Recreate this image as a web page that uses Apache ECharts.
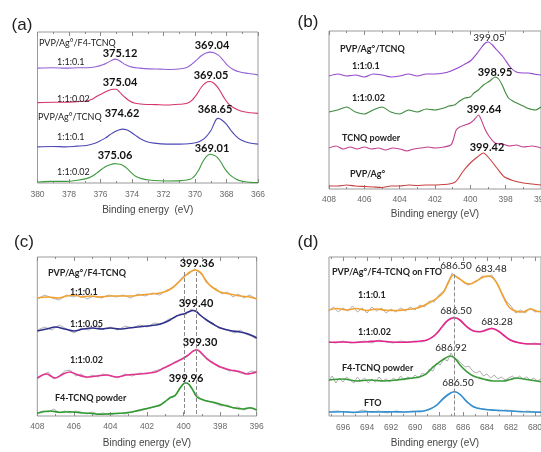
<!DOCTYPE html>
<html><head><meta charset="utf-8">
<script src="https://cdn.jsdelivr.net/npm/echarts@6/dist/echarts.min.js"></script>
<style>html,body{margin:0;padding:0;background:#fff}#c{width:541px;height:452px}</style>
</head><body><div id="c"></div>
<script>
// ---------- tick labels ----------
const aTicks=[380,378,376,374,372,370,368,366];
const aMinor=[379,377,375,373,371,369,367];
const bTicks=[408,406,404,402,400,398,396];
const bMinor=[407,405,403,401,399,397];
const cTicks=[408,406,404,402,400,398,396];
const cMinor=[407,405,403,401,399,397];
const dTicks=[696,694,692,690,688,686,684,682,680];
const dMinor=[697,695,693,691,689,687,685,683,681];

// ---------- (a) Ag 3d, offset intensities ----------
const a_F4_01=[[380,343],[379,344],[378.2,343],[377.4,344],[376.8,344],[376.3,347],[375.85,353],[375.5,361],[375.3,366],[375.1,370],[374.9,368],[374.7,362],[374.4,353],[374.0,346],[373.5,343],[372.9,341],[372.2,340],[371.5,339],[370.9,341],[370.5,346],[370.2,355],[369.9,367],[369.6,380],[369.3,388],[369.04,391],[368.8,389],[368.5,381],[368.2,366],[367.9,350],[367.6,340],[367.2,332],[366.6,327],[366,323]];
const a_F4_002=[[380,240],[379,241],[378.2,241],[377.5,243],[376.9,245],[376.5,251],[376.2,260],[375.85,268],[375.5,276],[375.2,280],[375.0,280],[374.8,272],[374.5,258],[374.15,245],[373.8,238],[373.3,235],[372.5,234],[371.8,233],[371.0,235],[370.5,238],[370.2,247],[369.9,264],[369.6,286],[369.3,300],[369.05,303],[368.8,298],[368.5,282],[368.2,258],[367.9,238],[367.6,226],[367.1,215],[366.5,210],[366,208]];
const a_T_01=[[380,108],[379,109],[378.2,108],[377.5,110],[376.9,112],[376.4,118],[376.1,124],[375.7,134],[375.4,144],[375.1,153],[374.8,159],[374.6,161],[374.35,159],[374.1,153],[373.8,143],[373.5,133],[373.1,124],[372.6,119],[371.8,116],[371.0,116],[370.4,117],[369.9,121],[369.6,127],[369.3,138],[369.0,156],[368.8,176],[368.65,190],[368.5,193],[368.3,188],[368.0,175],[367.7,156],[367.4,140],[367.1,129],[366.6,120],[366,116]];
const a_T_002=[[380,3],[379.2,5],[378.2,5],[377.5,8],[376.9,13],[376.5,21],[376.2,31],[375.9,42],[375.6,51],[375.3,56],[375.1,58],[374.9,57],[374.6,53],[374.3,43],[374.05,31],[373.8,21],[373.4,13],[372.8,8],[371.8,6],[370.9,7],[370.3,11],[370.0,22],[369.75,40],[369.5,64],[369.25,80],[369.05,86],[368.8,83],[368.6,77],[368.35,62],[368.1,42],[367.8,25],[367.4,12],[367.0,5],[366.5,2],[366,1]];

// ---------- (b) N 1s, TCNQ ----------
const b_T_01=[[408,113],[407.5,115],[407,113],[406.5,114],[406,112],[405.5,115],[405,114],[404.5,112],[404,113],[403.5,115],[403,113],[402.5,115],[402,115],[401.5,116],[401.1,118],[400.6,122],[400.3,125],[400,128],[399.6,136],[399.35,142],[399.15,146],[398.97,147],[398.75,144],[398.5,139],[398.1,131],[397.75,122],[397.4,117],[397,116],[396.7,116],[396.4,115],[396,114]];
const b_T_002=[[408,77],[407.5,79],[407,82],[406.5,77],[406,75],[405.5,79],[405,82],[404.5,77],[404,75],[403.5,79],[403,77],[402.5,80],[402,79],[401.5,81],[401.2,83],[400.9,84],[400.6,88],[400.3,91],[400,92],[399.8,96],[399.55,99],[399.26,104],[398.9,108],[398.6,112],[398.4,110],[398.2,104],[398,96],[397.84,91],[397.6,88],[397.37,86],[397,83],[396.8,81],[396.33,79],[396,82]];
const b_TCNQ=[[408,41],[407.6,43],[407.2,40],[406.8,42],[406.4,40],[406,42],[405.6,40],[405.2,41],[404.8,39],[404.4,41],[404,40],[403.6,38],[403.2,40],[402.8,41],[402.4,42],[402,41],[401.5,42],[401.1,44],[400.95,50],[400.8,59],[400.6,62],[400.3,64],[400,66],[399.75,70],[399.54,74],[399.4,70],[399.2,61],[398.95,53],[398.6,46],[398.2,45],[397.8,43],[397.4,44],[397,42],[396.5,43],[396,41]];
const b_PVP=[[408,3],[407.5,3],[407,4],[406.5,3],[406,2.5],[405.5,2],[405,1.5],[404.5,3],[404,3],[403.5,4],[403,3.5],[402.5,4],[402,4],[401.5,4.5],[401.2,5],[400.9,6.5],[400.7,10],[400.4,18],[400,26],[399.6,32],[399.26,36],[398.9,30],[398.5,21],[398.1,12.5],[397.6,8.5],[397,6],[396.5,5],[396,4]];

// ---------- (c) N 1s, F4-TCNQ: raw + fit ----------
const c_01_raw=[[408,117],[407.6,121],[407.2,118],[406.8,116],[406.4,121],[406,119],[405.6,122],[405.3,117],[404.9,120],[404.5,118],[404.1,121],[403.7,119],[403.3,121],[402.9,118],[402.5,122],[402.1,120],[401.7,123],[401.3,121],[400.9,126],[400.6,128],[400.3,134],[400,140],[399.7,142],[399.4,147],[399.1,143],[398.8,137],[398.5,129],[398.2,127],[397.9,122],[397.6,124],[397.3,119],[397,122],[396.7,118],[396.4,121],[396,117]];
const c_01_fit=[[408,118],[407.4,119],[406.85,118],[406.4,120],[405.9,121],[405.6,119],[405.1,120],[404.6,119],[404,120],[403.5,120],[402.9,120],[402.4,121],[401.8,122],[401.3,123],[400.9,125],[400.56,129],[400.2,135],[399.92,140],[399.65,144],[399.37,146],[399.19,145],[399.0,142],[398.74,134],[398.37,128],[398.0,124],[397.46,122],[396.9,120],[396.37,119],[396,117]];
const c_005_raw=[[408,86],[407.6,89],[407.2,86],[406.8,91],[406.4,87],[406,83],[405.6,88],[405.2,86],[404.8,90],[404.4,87],[404,89],[403.6,86],[403.2,90],[402.8,88],[402.4,91],[402,89],[401.6,93],[401.2,92],[400.8,97],[400.5,98],[400.2,102],[399.9,101],[399.6,107],[399.3,104],[399,100],[398.7,95],[398.4,93],[398.1,88],[397.8,87],[397.5,85],[397.2,83],[396.9,86],[396.6,82],[396.3,80],[396,77]];
const c_005_fit=[[408,85],[407.5,87],[407,89],[406.5,87],[406,85],[405.5,87],[405,88],[404.5,87],[404,88],[403.5,87],[403,88],[402.5,89],[402,90],[401.5,91],[401.1,93],[400.74,96],[400.38,100],[400.01,102],[399.74,104],[399.5,105.5],[399.3,104.5],[399.1,101],[398.74,96],[398.37,91.7],[398.01,88.3],[397.46,85.5],[396.91,84],[396.55,82.5],[396.2,80],[396,78]];
const c_002_raw=[[408,37],[407.7,41],[407.4,44],[407.1,37],[406.8,40],[406.5,45],[406.2,46],[405.9,40],[405.6,42],[405.3,38],[405,41],[404.7,39],[404.4,42],[404,40],[403.6,38],[403.2,42],[402.8,40],[402.4,43],[402,42],[401.6,45],[401.2,47],[400.8,50],[400.5,54],[400.2,56],[399.9,59],[399.6,63],[399.3,67],[399,62],[398.7,56],[398.4,54],[398.1,49],[397.8,48],[397.5,45],[397.2,46],[396.9,43],[396.6,42],[396.3,45],[396,44]];
const c_002_fit=[[408,38],[407.5,42],[407.03,38],[406.58,42],[406.21,44],[405.76,41],[405.3,39],[404.75,40],[404.21,41],[403.66,39],[403.11,41],[402.57,41.7],[402.02,42.7],[401.47,44.3],[401.11,47.7],[400.74,51],[400.38,54.3],[400.01,57.7],[399.74,61],[399.47,65],[399.25,66],[399.01,62.7],[398.74,57.7],[398.37,52.7],[398.01,49.3],[397.46,46],[396.91,44.3],[396.55,42],[396,44]];
const c_pow_raw=[[408,3],[407.7,5],[407.4,4],[407.1,7],[406.8,3],[406.5,5],[406.2,3],[405.9,5],[405.6,4],[405.3,2],[405,4],[404.7,2],[404.4,3],[404,1],[403.6,3],[403.2,2],[402.8,4],[402.4,5],[402,7],[401.6,9],[401.3,10],[401,14],[400.7,19],[400.4,21],[400.1,30],[399.9,34],[399.7,31],[399.4,24],[399.1,18],[398.8,15],[398.5,14],[398.2,12],[397.9,10],[397.6,11],[397.3,8],[397,9],[396.7,6],[396.4,8],[396,6]];
const c_pow_fit=[[408,2.7],[407.3,5],[406.76,3.7],[406.21,4.3],[405.67,3.3],[405.12,2.7],[404.57,1.7],[404.02,2.3],[403.48,2.7],[402.93,3.7],[402.38,6],[401.84,8.3],[401.29,11],[401.02,14.3],[400.74,18.3],[400.47,20.3],[400.2,27.7],[399.96,32.7],[399.83,33],[399.56,28],[399.28,19.3],[398.92,16],[398.37,13.7],[397.82,11],[397.28,8.3],[396.73,7],[396.37,8.3],[396,6]];
const cDash=[399.96,399.32];
const cDashTop=144;

// ---------- (d) F 1s: raw + fit ----------
const d_01_raw=[[697.2,105],[696.8,109],[696.4,104],[696,108],[695.6,105],[695.2,110],[694.8,104],[694.4,108],[694,103],[693.6,109],[693.2,105],[692.8,108],[692.4,103],[692,107],[691.6,104],[691.2,108],[690.8,105],[690.4,109],[690,106],[689.6,111],[689.2,109],[688.8,115],[688.4,114],[688,121],[687.6,125],[687.2,135],[686.9,143],[686.6,139],[686.3,138],[686,134],[685.6,131],[685.2,133],[684.8,135],[684.4,140],[684,139],[683.6,141],[683.2,134],[682.8,124],[682.4,115],[682,110],[681.6,103],[681.2,106],[680.8,103],[680.4,108],[680,104],[679.5,105]];
const d_01_fit=[[697.17,106],[696.5,107.5],[695.7,106],[694.9,107.5],[694,105.5],[693.2,107],[692.4,105.7],[691.5,105.5],[690.7,106.5],[689.9,107.7],[689.3,110.3],[688.75,113.7],[688.2,117.7],[687.6,124.3],[687.2,134],[686.8,141],[686.4,138],[685.8,133],[685.4,132],[684.9,135],[684.3,139],[683.9,140],[683.5,138],[683.1,131],[682.6,118],[682.1,108],[681.5,104.5],[681,104],[680.4,107],[679.9,105],[679.5,104]];
const d_002_raw=[[697.2,74],[696.6,73],[696,75],[695.4,73],[694.8,74],[694.2,75],[693.6,73],[693,76],[692.4,74],[691.8,73],[691.2,75],[690.6,74],[690,75],[689.4,74],[688.8,77],[688.4,80],[688,86],[687.6,90],[687.2,97],[686.8,99],[686.4,97],[686,92],[685.6,89],[685.2,86],[684.8,84],[684.4,85],[684,87],[683.6,88],[683.2,86],[682.8,83],[682.4,79],[682,76],[681.6,74],[681.2,73],[680.6,72],[680,73],[679.5,71]];
const d_002_fit=[[697.17,73.7],[696,74],[695,73.5],[694,74.3],[693,75],[692,74],[691,73.7],[690,74.3],[689.5,75],[689,76],[688.5,79.3],[688.06,84.3],[687.64,91],[687.22,96],[686.72,98.3],[686.25,96],[685.69,89.3],[685.14,85],[684.58,84.3],[684.03,86],[683.61,87.5],[683.06,85],[682.64,81],[682.08,76],[681.25,73],[680.42,72],[679.5,72]];
const d_pow_raw=[[697.2,35],[696.9,40],[696.6,33],[696.3,38],[696,34],[695.7,39],[695.4,36],[695.1,33],[694.8,39],[694.5,35],[694.2,38],[693.9,33],[693.6,37],[693.3,34],[693,39],[692.7,35],[692.4,37],[692.1,34],[691.8,38],[691.5,35],[691.2,40],[690.9,36],[690.6,39],[690.3,37],[690,41],[689.7,38],[689.4,43],[689.1,41],[688.8,47],[688.5,45],[688.2,53],[687.9,51],[687.6,57],[687.3,55],[687,63],[686.7,57],[686.4,56],[686.1,52],[685.8,49],[685.5,50],[685.2,45],[684.9,43],[684.6,45],[684.3,40],[684,42],[683.7,38],[683.4,41],[683.1,37],[682.8,39],[682.5,36],[682.2,38],[681.9,40],[681.6,37],[681.3,40],[681,37],[680.7,39],[680.4,36],[680.1,38],[679.8,35],[679.5,37]];
const d_pow_fit=[[697.17,36],[695.97,37],[694.86,35],[693.75,36],[692.64,35],[691.53,36],[690.42,37.7],[689.58,39.3],[689.03,42.7],[688.47,49.3],[687.92,54.3],[687.5,57.7],[687.08,60],[686.67,57.7],[686.25,51],[685.69,44.3],[685.14,40],[684.31,37],[683.47,35],[682.64,35],[682.08,36.5],[681.53,38],[680.97,37],[679.86,35],[679.5,34.3]];
const d_FTO_raw=[[697.2,4],[696.5,5],[695.8,4],[695.1,3],[694.4,6],[693.7,4],[693,5],[692.3,3],[691.6,5],[690.9,4],[690.2,5],[689.5,4],[689,6],[688.6,8],[688.2,10],[687.8,15],[687.4,19],[687,23],[686.7,25],[686.4,23],[686,19],[685.6,14],[685.2,10],[684.8,8],[684.2,7],[683.6,6],[683,5],[682.4,6],[681.8,5],[681.2,4],[680.6,5],[680,4],[679.5,4]];
const d_FTO_fit=[[697.17,4],[696,4.3],[695,3.7],[694,4.3],[693,4],[692,4.3],[691,4],[690,4.5],[689.3,5],[688.75,7],[688.19,11],[687.64,17.7],[687.08,22.7],[686.72,24.3],[686.25,21.7],[685.69,14.3],[685.14,9.3],[684.31,6.7],[683.19,5.7],[682.08,5],[680.97,4.3],[679.5,3.7]];
const dDash=[686.7];
const dDashTop=141.5;

// ---------- layout ----------
const panels=[
 {grid:{left:37.5,top:32,width:220.5,height:151},xmin:366,xmax:380,ymax:451,ticks:aTicks,minor:aMinor,lm:7,gap:22,name:'Binding energy  (eV)'},
 {grid:{left:329,top:31,width:212,height:158},xmin:396,xmax:408,ymax:158,ticks:bTicks,minor:bMinor,lm:6,gap:20,name:'Binding energy (eV)'},
 {grid:{left:37.3,top:257,width:219.4,height:159},xmin:396,xmax:408,ymax:159,ticks:cTicks,minor:cMinor,lm:6,gap:22,name:'Binding energy (eV)'},
 {grid:{left:329,top:257,width:212,height:159},xmin:679.5,xmax:697.17,ymax:159,ticks:dTicks,minor:dMinor,lm:7,gap:22,name:'Binding energy (eV)'}
];
const TICK='#8a8a8a';
const grids=[],xAxes=[],yAxes=[];
panels.forEach((p,i)=>{
  grids.push(Object.assign({show:true,borderColor:'#9a9a9a',borderWidth:1,containLabel:false,outerBoundsMode:'none'},p.grid));
  const base={gridIndex:i,type:'value',min:p.xmin,max:p.xmax,inverse:true,axisLine:{show:false},splitLine:{show:false}};
  xAxes.push(Object.assign({},base,{position:'bottom',
    axisTick:{show:true,inside:true,length:4,customValues:p.ticks,lineStyle:{color:TICK}},
    axisLabel:{show:true,customValues:p.ticks,margin:p.lm,color:'#6a6a6a',fontSize:8.5,fontFamily:'Liberation Sans'},
    name:p.name,nameLocation:'middle',nameGap:p.gap,nameTextStyle:{color:'#444',fontSize:10,fontFamily:'Liberation Sans'}}));
  xAxes.push(Object.assign({},base,{position:'bottom',axisTick:{show:true,inside:true,length:2,customValues:p.minor,lineStyle:{color:TICK}},axisLabel:{show:false}}));
  xAxes.push(Object.assign({},base,{position:'top',axisTick:{show:true,inside:true,length:4,customValues:p.ticks,lineStyle:{color:TICK}},axisLabel:{show:false}}));
  xAxes.push(Object.assign({},base,{position:'top',axisTick:{show:true,inside:true,length:2,customValues:p.minor,lineStyle:{color:TICK}},axisLabel:{show:false}}));
  yAxes.push({gridIndex:i,type:'value',min:0,max:p.ymax,show:false});
});

const series=[];
function line(panel,data,color,width,smooth,z){
  series.push({type:'line',xAxisIndex:panel*4,yAxisIndex:panel,data:data,showSymbol:false,symbol:'none',
    smooth:smooth,lineStyle:{color:color,width:width},z:z||2,silent:true,animation:false});
  return series[series.length-1];
}
const RAW='#9a9a9a';
// (a)
line(0,a_F4_01,'#9461d6',1.1,0.35);
line(0,a_F4_002,'#d6336f',1.1,0.35);
line(0,a_T_01,'#4b47b3',1.1,0.35);
line(0,a_T_002,'#3f9a3f',1.1,0.35);
// (b)
line(1,b_T_01,'#9346cc',1.1,0.25);
line(1,b_T_002,'#3d8a3d',1.1,0.25);
line(1,b_TCNQ,'#c2408e',1.1,0.25);
line(1,b_PVP,'#c94040',1.1,0.25);
// (c)
line(2,c_01_raw,RAW,0.8,false,1);
line(2,c_005_raw,RAW,0.8,false,1);
line(2,c_002_raw,RAW,0.8,false,1);
line(2,c_pow_raw,RAW,0.8,false,1);
const cs=line(2,c_01_fit,'#f2a131',1.6,0.35);
line(2,c_005_fit,'#2f2f8c',1.6,0.35);
line(2,c_002_fit,'#e33590',1.6,0.35);
line(2,c_pow_fit,'#2f9a2f',1.6,0.35);
cs.markLine={silent:true,symbol:['none','none'],label:{show:false},animation:false,
  lineStyle:{type:'dashed',color:'#8a8a8a',width:1},
  data:cDash.map(v=>[{coord:[v,cDashTop]},{coord:[v,0]}])};
// (d)
line(3,d_01_raw,RAW,0.8,false,1);
line(3,d_002_raw,RAW,0.8,false,1);
line(3,d_pow_raw,RAW,0.8,false,1);
line(3,d_FTO_raw,RAW,0.8,false,1);
const ds=line(3,d_01_fit,'#f2a131',1.6,0.35);
line(3,d_002_fit,'#e3248c',1.6,0.35);
line(3,d_pow_fit,'#3a9a3a',1.6,0.35);
line(3,d_FTO_fit,'#2f8fd0',1.6,0.35);
ds.markLine={silent:true,symbol:['none','none'],label:{show:false},animation:false,
  lineStyle:{type:'dashed',color:'#8a8a8a',width:1},
  data:dDash.map(v=>[{coord:[v,dDashTop]},{coord:[v,0]}])};

// ---------- annotations ----------
const ST={
  panel:{fontSize:17,fontFamily:'Liberation Sans',fill:'#222'},
  la:{fontSize:9,fontFamily:'Lato',fill:'#222'},
  lb:{fontSize:9,fontFamily:'Lato',fontWeight:'bold',fill:'#222'},
  nb:{fontSize:11,fontFamily:'Lato',fontWeight:'bold',fill:'#111'},
  nn:{fontSize:10,fontFamily:'Lato',fill:'#222'}
};
const annot=[
 ['(a)',22,25,'center','panel'],
 ['PVP/Ag°/F4-TCNQ',39,43,'left','la'],
 ['1:1:0.1',57,62,'left','la'],
 ['375.12',120,53,'center','nb'],
 ['369.04',212,45,'center','nb'],
 ['375.04',120,82,'center','nb'],
 ['369.05',211,75,'center','nb'],
 ['1:1:0.02',57,99,'left','la'],
 ['PVP/Ag°/TCNQ',38,117,'left','la'],
 ['374.62',122,113,'center','nb'],
 ['368.65',215,109,'center','nb'],
 ['1:1:0.1',57,137,'left','la'],
 ['375.06',115,155,'center','nb'],
 ['369.01',212,148,'center','nb'],
 ['1:1:0.02',57,172,'left','la'],
 ['(b)',308,22,'center','panel'],
 ['PVP/Ag°/TCNQ',340,49,'left','lb'],
 ['399.05',489,38,'center','nn'],
 ['1:1:0.1',352,66,'left','lb'],
 ['398.95',495,72,'center','nb'],
 ['1:1:0.02',352,98,'left','lb'],
 ['399.64',484,109,'center','nb'],
 ['TCNQ powder',342,138,'left','lb'],
 ['399.42',487,147,'center','nb'],
 ['PVP/Ag°',350,174,'left','lb'],
 ['(c)',24,242,'center','panel'],
 ['PVP/Ag°/F4-TCNQ',48,273,'left','lb'],
 ['1:1:0.1',70,292,'left','lb'],
 ['399.36',197,263,'center','nb'],
 ['1:1:0.05',70,324,'left','lb'],
 ['399.40',196,303,'center','nb'],
 ['1:1:0.02',70,360,'left','lb'],
 ['399.30',200,342,'center','nb'],
 ['F4-TCNQ powder',55,398,'left','lb'],
 ['399.96',186,378,'center','nb'],
 ['(d)',308,242,'center','panel'],
 ['PVP/Ag°/F4-TCNQ on FTO',332,272,'left','lb'],
 ['686.50',456,266,'center','nn'],
 ['683.48',491,269,'center','nn'],
 ['1:1:0.1',358,295,'left','lb'],
 ['686.50',456,311,'center','nn'],
 ['683.28',497,322,'center','nn'],
 ['1:1:0.02',358,332,'left','lb'],
 ['686.92',451,348,'center','nn'],
 ['F4-TCNQ powder',342,368,'left','lb'],
 ['686.50',458,383,'center','nn'],
 ['FTO',364,403,'left','lb']
];
const graphic=annot.map(a=>({type:'text',x:a[1],y:a[2],silent:true,z:10,
  style:Object.assign({text:a[0],align:a[3],verticalAlign:'middle',textAlign:a[3],textVerticalAlign:'middle'},ST[a[4]])}));

const chart=echarts.init(document.getElementById('c'),null,{renderer:'canvas'});
chart.setOption({animation:false,backgroundColor:'#fff',grid:grids,xAxis:xAxes,yAxis:yAxes,series:series,graphic:graphic});
</script></body></html>
